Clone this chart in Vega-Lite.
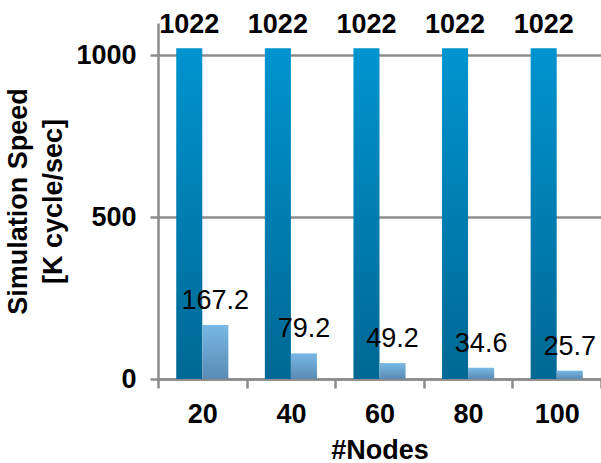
{
  "$schema": "https://vega.github.io/schema/vega-lite/v6.json",
  "width": 443,
  "height": 356,
  "autosize": "none",
  "padding": {"left": 158, "top": 23, "right": 0, "bottom": 84},
  "config": {"view": {"stroke": null}, "font": "Liberation Sans"},
  "data": {
    "values": [
      {"nodes": 20, "series": "A", "speed": 1022},
      {"nodes": 40, "series": "A", "speed": 1022},
      {"nodes": 60, "series": "A", "speed": 1022},
      {"nodes": 80, "series": "A", "speed": 1022},
      {"nodes": 100, "series": "A", "speed": 1022},
      {"nodes": 20, "series": "B", "speed": 167.2},
      {"nodes": 40, "series": "B", "speed": 79.2},
      {"nodes": 60, "series": "B", "speed": 49.2},
      {"nodes": 80, "series": "B", "speed": 34.6},
      {"nodes": 100, "series": "B", "speed": 25.7}
    ]
  },
  "encoding": {
    "x": {
      "field": "nodes", "type": "ordinal", "sort": [20, 40, 60, 80, 100],
      "scale": {"paddingInner": 0, "paddingOuter": 0},
      "axis": {
        "labelAngle": 0, "labelFontSize": 27, "labelFontWeight": "bold", "labelColor": "#000",
        "labelPadding": 13, "tickBand": "extent", "tickSize": 9, "tickWidth": 2.5, "tickColor": "#8C8C8C",
        "domainColor": "#8C8C8C", "domainWidth": 2.5,
        "title": "#Nodes", "titleFontSize": 27, "titleFontWeight": "bold", "titleColor": "#000", "titlePadding": 10
      }
    },
    "xOffset": {
      "field": "series", "type": "nominal", "sort": ["A", "B"],
      "scale": {"paddingInner": 0, "paddingOuter": 0.7}
    },
    "y": {
      "field": "speed", "type": "quantitative",
      "scale": {"domain": [0, 1100], "nice": false, "zero": true},
      "axis": {
        "values": [0, 500, 1000], "format": "d", "grid": true, "gridColor": "#8C8C8C", "gridWidth": 2.5,
        "domainColor": "#8C8C8C", "domainWidth": 2.5,
        "tickColor": "#8C8C8C", "tickSize": 8, "tickWidth": 2.5,
        "labelFontSize": 27, "labelFontWeight": "bold", "labelColor": "#000", "labelPadding": 14,
        "title": ["Simulation Speed", "[K cycle/sec]"], "titleFontSize": 27, "titleFontWeight": "bold",
        "titleColor": "#000", "titlePadding": 8, "titleLineHeight": 35
      }
    }
  },
  "layer": [
    {
      "transform": [{"filter": "datum.series === 'A'"}],
      "mark": {
        "type": "bar",
        "fill": {"gradient": "linear", "x1": 0, "y1": 0, "x2": 0, "y2": 1,
          "stops": [{"offset": 0, "color": "#0094CF"}, {"offset": 1, "color": "#006894"}]}
      }
    },
    {
      "transform": [{"filter": "datum.series === 'B'"}],
      "mark": {
        "type": "bar",
        "fill": {"gradient": "linear", "x1": 0, "y1": 0, "x2": 0, "y2": 1,
          "stops": [{"offset": 0, "color": "#77B9E5"}, {"offset": 1, "color": "#5A8AB2"}]}
      }
    },
    {
      "transform": [{"filter": "datum.series === 'A'"}],
      "mark": {"type": "text", "baseline": "alphabetic", "dy": -15, "fontSize": 27, "fontWeight": "bold", "color": "#000"},
      "encoding": {"text": {"field": "speed", "type": "quantitative", "format": "d"}}
    },
    {
      "transform": [{"filter": "datum.series === 'B'"}],
      "mark": {"type": "text", "baseline": "alphabetic", "dy": -16, "fontSize": 27, "fontWeight": "normal", "color": "#000"},
      "encoding": {"text": {"field": "speed", "type": "quantitative", "format": ".1f"}}
    }
  ]
}
